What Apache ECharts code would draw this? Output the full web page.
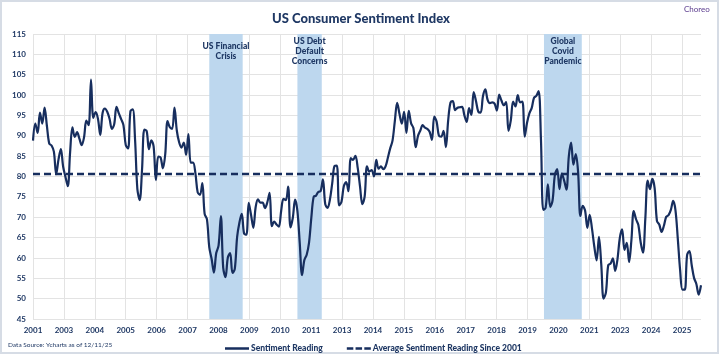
<!DOCTYPE html>
<html>
<head>
<meta charset="utf-8">
<script src="https://cdn.jsdelivr.net/npm/echarts@6/dist/echarts.min.js"></script>
<style>
html,body{margin:0;padding:0;background:#fff;}
#chart{width:722px;height:357px;}
</style>
</head>
<body>
<div id="chart"></div>
<script>
// ---- DATA ----
// Monthly consumer sentiment readings, Dec 2001 .. Dec 2025
const firstYear = 2001, firstMonthNum = 12;
const sentiment = [
  88.8,
  93.0, 90.7, 95.7, 93.0, 96.9, 92.4, 88.1, 87.6, 86.1, 80.6, 84.2, 86.7,   // 2002
  82.4, 79.9, 77.6, 86.0, 92.1, 89.7, 90.9, 89.3, 87.7, 89.6, 93.7, 92.6,   // 2003
  103.8, 94.4, 95.8, 94.2, 90.2, 95.6, 96.7, 95.9, 94.2, 91.7, 92.8, 97.1,  // 2004
  95.5, 94.1, 92.6, 87.7, 86.9, 96.0, 96.5, 89.1, 76.9, 74.2, 81.6, 91.5,   // 2005
  91.2, 86.7, 88.9, 87.4, 79.1, 84.9, 84.7, 82.0, 85.4, 93.6, 92.1, 91.7,   // 2006
  96.9, 91.3, 88.4, 87.1, 88.3, 85.3, 90.4, 83.4, 83.4, 80.9, 76.1, 75.5,   // 2007
  78.4, 70.8, 69.5, 62.6, 59.8, 56.4, 61.2, 63.0, 70.3, 57.6, 55.3, 60.1,   // 2008
  61.2, 56.3, 57.3, 65.1, 68.7, 70.8, 66.0, 65.7, 73.5, 70.6, 67.4, 72.5,   // 2009
  74.4, 73.6, 73.6, 72.2, 73.6, 76.0, 67.8, 68.9, 68.2, 67.7, 71.6, 74.5,   // 2010
  74.2, 77.5, 67.5, 69.8, 74.3, 71.5, 63.7, 55.8, 59.5, 60.8, 63.7, 69.9,   // 2011
  75.0, 75.3, 76.2, 76.4, 79.3, 73.2, 72.3, 74.3, 78.3, 82.6, 82.7, 72.9,   // 2012
  73.8, 77.6, 78.6, 76.4, 84.5, 84.1, 85.1, 82.1, 77.5, 73.2, 75.1, 82.5,   // 2013
  81.2, 81.6, 80.0, 84.1, 81.9, 82.5, 81.8, 82.5, 84.6, 86.9, 88.8, 93.6,   // 2014
  98.1, 95.4, 93.0, 95.9, 90.7, 96.1, 93.1, 91.9, 87.2, 90.0, 91.3, 92.6,   // 2015
  92.0, 91.7, 91.0, 89.0, 94.7, 93.5, 90.0, 89.8, 91.2, 87.2, 93.8, 98.2,   // 2016
  98.5, 96.3, 96.9, 97.0, 97.1, 95.0, 93.4, 96.8, 95.1, 100.7, 98.5, 95.9,  // 2017
  95.7, 99.7, 101.4, 98.8, 98.0, 98.2, 97.9, 96.2, 100.1, 98.6, 97.5, 98.3, // 2018
  91.2, 93.8, 98.4, 97.2, 100.0, 98.2, 98.4, 89.8, 93.2, 95.5, 96.8, 99.3,  // 2019
  99.8, 101.0, 89.1, 71.8, 72.3, 78.1, 72.5, 74.1, 80.4, 81.8, 76.9, 80.7,  // 2020
  79.0, 76.8, 84.9, 88.3, 82.9, 85.5, 81.2, 70.3, 72.8, 71.7, 67.4, 70.6,   // 2021
  67.2, 62.8, 59.4, 65.2, 58.4, 50.0, 51.5, 58.2, 58.6, 59.9, 56.8, 59.7,   // 2022
  64.9, 67.0, 62.0, 63.7, 59.0, 64.4, 71.5, 69.5, 68.1, 63.8, 61.3, 69.7,   // 2023
  79.0, 76.9, 79.4, 77.2, 69.1, 68.2, 66.4, 67.9, 70.1, 70.5, 71.8, 74.0,   // 2024
  71.7, 64.7, 57.0, 52.2, 52.2, 60.7, 61.7, 58.2, 55.1, 53.6, 51.0, 53.3    // 2025
];
const averageReading = 80.6;
const tickLabels = ['2001','2003','2004','2005','2006','2007','2008','2009','2010','2011',
  '2013','2014','2015','2016','2017','2018','2019','2020','2021','2023','2024','2025'];
const eventNames = ['US Financial\nCrisis', 'US Debt\nDefault\nConcerns', 'Global\nCovid\nPandemic'];
const eventStarts = ['2008-04-01', '2011-06-01', '2020-04-10'];
const eventEnds   = ['2009-06-13', '2012-04-16', '2021-08-19'];

// ---- helpers ----
function monthIndex(dateStr) {
  const [y, m, d] = dateStr.split('-').map(Number);
  return (y - firstYear) * 12 + (m - firstMonthNum) + ((d || 1) - 1) / 30;
}
const lastIdx = sentiment.length - 1;
const lineData = sentiment.map((v, i) => [i, v]);
const avgData = [[0, averageReading], [lastIdx, averageReading]];
const tickStep = 13.325;

const navy = '#1F3864';
const lineColor = '#172E5E';
const FONT = 'Lato';

const labelStyle = {
  show: true,
  position: ['50%', 17], align: 'center', verticalAlign: 'middle',
  fontFamily: FONT, fontSize: 8.5, fontWeight: 900, color: navy, lineHeight: 10
};

const chart = echarts.init(document.getElementById('chart'), null, {renderer: 'canvas'});
chart.setOption({
  animation: false,
  backgroundColor: '#fff',
  title: {
    text: 'US Consumer Sentiment Index',
    left: 'center', top: 7,
    textStyle: {fontFamily: FONT, fontSize: 13, fontWeight: 900, color: navy}
  },
  graphic: [
    {type: 'rect', shape: {x: 1, y: 1, width: 717, height: 352},
     style: {fill: 'none', stroke: '#D6DCE5', lineWidth: 2}, silent: true, z: -1},
    {type: 'text', left: 684, top: 5,
     style: {text: 'Choreo', fill: '#5B3C8E', font: '8px ' + FONT}},
    {type: 'text', left: 8, top: 341,
     style: {text: 'Data Source: Ycharts as of 12/11/25', fill: navy, font: '6.5px ' + FONT}}
  ],
  legend: {
    left: 220, top: 339,
    itemWidth: 24, itemHeight: 2.5, itemGap: 24,
    textStyle: {fontFamily: FONT, fontSize: 8.5, fontWeight: 900, color: navy, padding: [0, 0, 0, -3]},
    data: [
      {name: 'Sentiment Reading', icon: 'path://M0,0H48V5H0Z',
       itemStyle: {color: lineColor}},
      {name: 'Average Sentiment Reading Since 2001',
       icon: 'path://M0,0H13V5H0Z M17.5,0H30.5V5H17.5Z M35,0H48V5H35Z',
       itemStyle: {color: lineColor}}
    ]
  },
  grid: {left: 33, right: 21, top: 34, bottom: 38, containLabel: false},
  xAxis: {
    type: 'value', min: 0, max: lastIdx, interval: tickStep,
    axisLine: {show: false}, axisTick: {show: false},
    splitLine: {show: true, showMaxLine: false, lineStyle: {color: '#E3E3E3', width: 1}},
    axisLabel: {
      margin: 7, showMaxLabel: false,
      fontFamily: FONT, fontSize: 8, fontWeight: 'bold', color: navy,
      formatter: (v) => { const k = Math.round(v / tickStep); return tickLabels[k] || ''; }
    }
  },
  yAxis: {
    type: 'value', min: 45, max: 115, interval: 5,
    axisLine: {show: false}, axisTick: {show: false},
    splitLine: {lineStyle: {color: '#E3E3E3', width: 1}},
    axisLabel: {margin: 7, fontFamily: FONT, fontSize: 8, fontWeight: 'bold', color: navy}
  },
  series: [
    {
      name: 'Sentiment Reading', type: 'line', data: lineData,
      symbol: 'none', smooth: 0.35,
      lineStyle: {color: lineColor, width: 2.2},
      itemStyle: {color: lineColor},
      z: 3,
      markArea: {
        silent: true,
        itemStyle: {color: '#BDD7EE'},
        label: labelStyle,
        data: eventNames.map((n, i) => [
          {name: n, xAxis: monthIndex(eventStarts[i]), label: labelStyle},
          {xAxis: monthIndex(eventEnds[i])}
        ])
      }
    },
    {
      name: 'Average Sentiment Reading Since 2001', type: 'line', data: avgData,
      symbol: 'none',
      lineStyle: {color: lineColor, width: 2.5, type: [7, 4]},
      itemStyle: {color: lineColor},
      z: 4
    }
  ]
});
</script>
</body>
</html>
